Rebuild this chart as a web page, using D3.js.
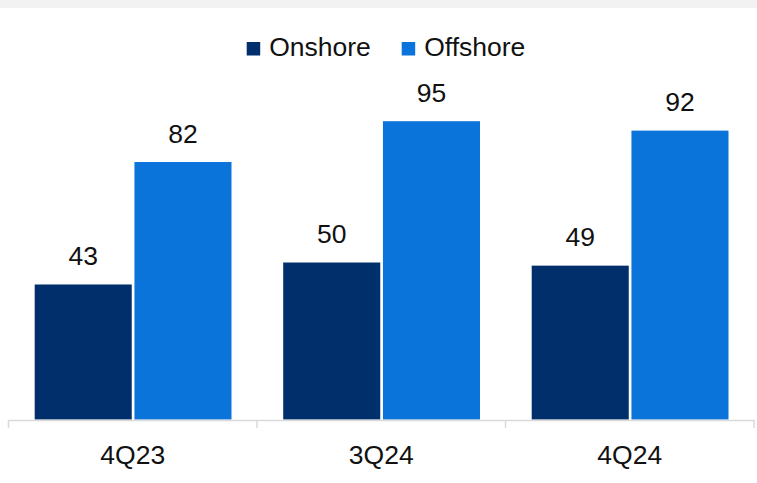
<!DOCTYPE html>
<meta charset="utf-8">
<html>
<head>
<script src="https://d3js.org/d3.v7.min.js"></script>
<style>
  body { margin: 0; background: #fff; }
  text { font-family: "Liberation Sans", Arial, sans-serif; fill: #111; }
</style>
</head>
<body>
<div id="chart"></div>
<script>
// data
const quarters = ["4Q23", "3Q24", "4Q24"];
const seriesNames = ["Onshore", "Offshore"];
const onshore = [43, 50, 49];
const offshore = [82, 95, 92];
const colors = ["#012f6b", "#0a74da"];

const W = 757, H = 483;
const svg = d3.select("#chart").append("svg")
    .attr("width", W).attr("height", H);

// light grey strip across the top
svg.append("rect").attr("x", 0).attr("y", 0)
    .attr("width", W).attr("height", 8).attr("fill", "#f2f2f2");

const x0 = d3.scaleBand().domain(quarters).range([8.5, 754]);
const x1 = d3.scaleBand().domain(seriesNames).range([26.2, 223]).paddingInner(0.027);
const y = d3.scaleLinear().domain([0, 100]).range([419.5, 105.5]);

const rows = quarters.map((q, i) => ({q: q, vals: [onshore[i], offshore[i]]}));

const groups = svg.append("g").selectAll("g")
  .data(rows)
  .join("g")
    .attr("transform", d => `translate(${x0(d.q)},0)`);

groups.selectAll("rect")
  .data(d => d.vals.map((v, j) => ({name: seriesNames[j], v: v, c: colors[j]})))
  .join("rect")
    .attr("x", d => x1(d.name))
    .attr("y", d => y(d.v))
    .attr("width", x1.bandwidth())
    .attr("height", d => y(0) - y(d.v))
    .attr("fill", d => d.c);

groups.selectAll("text.val")
  .data(d => d.vals.map((v, j) => ({name: seriesNames[j], v: v})))
  .join("text")
    .attr("class", "val")
    .attr("x", d => x1(d.name) + x1.bandwidth() / 2)
    .attr("y", d => y(d.v) - 19.5)
    .attr("text-anchor", "middle")
    .style("font-size", "26.5px")
    .text(d => d.v);

// x axis
const axis = svg.append("g")
    .attr("transform", "translate(0,420)")
    .call(d3.axisBottom(x0).tickSize(0).tickFormat(""));
axis.select(".domain").attr("stroke", "#d9d9d9").attr("stroke-width", 1.5);
axis.selectAll(".tick").remove();
const edges = quarters.map(q => x0(q)).concat([x0.range()[1]]);
axis.selectAll("line.edge")
  .data(edges)
  .join("line")
    .attr("class", "edge")
    .attr("x1", d => d).attr("x2", d => d)
    .attr("y1", 0).attr("y2", 8)
    .attr("stroke", "#d9d9d9").attr("stroke-width", 1.5);

svg.append("g").selectAll("text")
  .data(quarters)
  .join("text")
    .attr("x", d => x0(d) + x0.bandwidth() / 2)
    .attr("y", 464)
    .attr("text-anchor", "middle")
    .style("font-size", "26.5px")
    .text(d => d);

// legend
const legendX = [246.7, 401.7];
const legend = svg.append("g").selectAll("g")
  .data(seriesNames)
  .join("g")
    .attr("transform", (d, i) => `translate(${legendX[i]},0)`);
legend.append("rect")
    .attr("x", 0).attr("y", 42)
    .attr("width", 13.5).attr("height", 13.5)
    .attr("fill", (d, i) => colors[i]);
legend.append("text")
    .attr("x", 22.5).attr("y", 56)
    .style("font-size", "26.5px")
    .text(d => d);
</script>
</body>
</html>
